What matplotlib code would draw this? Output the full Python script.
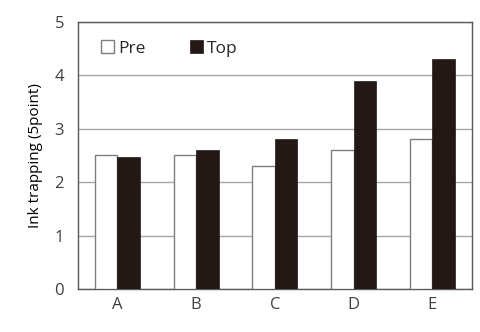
import matplotlib.pyplot as plt
import numpy as np

plt.rcParams['font.family'] = ['Open Sans', 'DejaVu Sans']

categories = ['A', 'B', 'C', 'D', 'E']
pre = [2.5, 2.5, 2.3, 2.6, 2.8]
top = [2.48, 2.6, 2.8, 3.9, 4.3]

fig = plt.figure(figsize=(4.81, 3.32), dpi=100)
ax = fig.add_axes([0.162, 0.1295, 0.819, 0.8045])

x = np.arange(len(categories))
w = 0.286
ax.bar(x - w / 2, pre, w, color='white', edgecolor='#7f7f7f', linewidth=1, label='Pre', zorder=3)
ax.bar(x + w / 2, top, w, color='#231815', edgecolor='#231815', linewidth=0.5, label='Top', zorder=3)

ax.set_xlim(-0.5, 4.5)
ax.set_ylim(0, 5)
ax.set_yticks(range(6))
ax.set_xticks(x)
ax.set_xticklabels(categories)
ax.yaxis.grid(True, color='#a6a6a6', linewidth=1, zorder=0)
ax.tick_params(length=0, labelsize=12, colors='#404040', pad=10)
ax.tick_params(axis='x', pad=6)
for s in ax.spines.values():
    s.set_color('#595959')
    s.set_linewidth(1)

ax.set_ylabel('Ink trapping (5point)', fontsize=11, color='black', labelpad=8)

ax.legend(loc='upper left', bbox_to_anchor=(0.02, 0.99), ncol=2, frameon=False,
          fontsize=12.5, handlelength=0.75, handleheight=0.75, handletextpad=0.2,
          columnspacing=2.6, labelcolor='#262626')

fig.savefig('out.png', dpi=100)
